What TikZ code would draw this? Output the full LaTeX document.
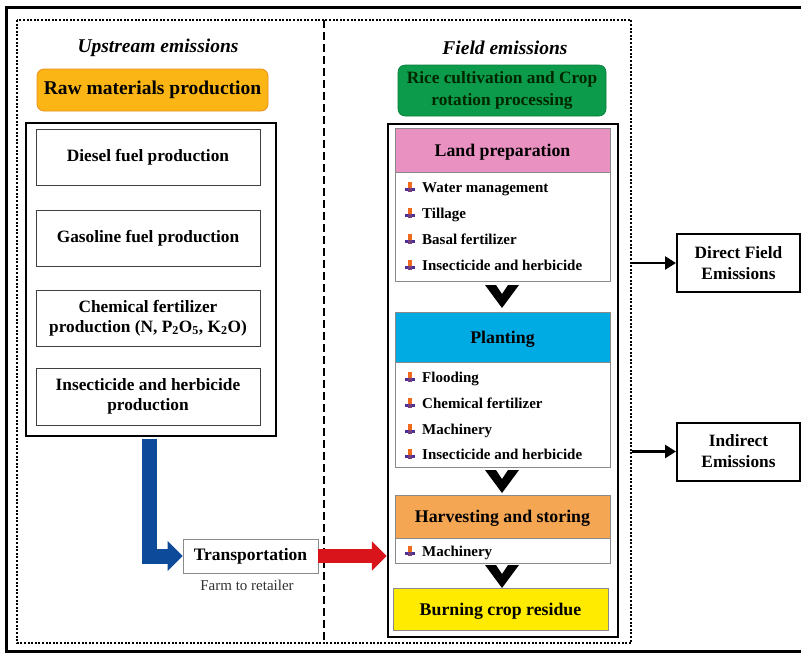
\documentclass[tikz,border=0pt]{standalone}
\usepackage{fontspec}
\setmainfont{Liberation Serif}
\usetikzlibrary{arrows.meta}
\definecolor{rawor}{HTML}{FBB514}
\definecolor{rawedge}{HTML}{E8901A}
\definecolor{rotgreen}{HTML}{0B9B4A}
\definecolor{landpink}{HTML}{E991C1}
\definecolor{plantblue}{HTML}{00ABE3}
\definecolor{harvor}{HTML}{F5A653}
\definecolor{burnyel}{HTML}{FFEB00}
\definecolor{arrblue}{HTML}{0D4A9A}
\definecolor{arrred}{HTML}{D9151B}
\definecolor{bulor}{HTML}{F06A1E}
\definecolor{bulblue}{HTML}{4B2E9A}
\definecolor{edgegray}{HTML}{8A8A8A}
\begin{document}
\begin{tikzpicture}[x=1pt,y=-1pt,
  title/.style={font=\fontsize{19.5}{22}\selectfont\bfseries\itshape},
  upitem/.style={draw=black!75, line width=0.9pt, fill=white, align=center,
    font=\fontsize{17.3}{20}\selectfont\bfseries, minimum width=224pt, inner sep=0pt},
  bigframe/.style={draw=black, line width=2.5pt, inner sep=0pt},
  header/.style={draw=edgegray, line width=0.6pt, minimum width=215pt, inner sep=0pt,
    text depth=0pt, font=\fontsize{17.8}{20}\selectfont\bfseries},
  listbox/.style={draw=edgegray, line width=0.8pt, fill=white, minimum width=215pt, inner sep=0pt},
  li/.style={anchor=base west, inner sep=0pt, font=\fontsize{15}{17}\selectfont\bfseries},
  outbox/.style={draw=black, line width=2pt, fill=white, align=center, minimum width=123pt,
    minimum height=58pt, inner sep=0pt, font=\fontsize{17.3}{21}\selectfont\bfseries},
  thinarrow/.style={line width=2.6pt, -{Triangle[length=11pt,width=13pt]}},
  bul/.pic={
    \fill[bulblue] (-5,0.5) rectangle (5,3.5);
    \fill[bulor] (-1.8,-5) rectangle (1.8,0.5);
    \fill[bulblue!75!bulor] (-1.8,0.5) rectangle (1.8,5);
  },
  chev/.pic={
    \fill[black] (-17,0) -- (-6,0) -- (0,9) -- (6,0) -- (17,0) -- (0,23) -- cycle;
  }
]
\useasboundingbox (0,0) rectangle (801,657);
\fill[white] (0,0) rectangle (801,657);

% outer frame
\draw[line width=3pt] (801,7) -- (6,7) -- (6,651) -- (801,651);
% dotted frame
\draw[line width=2.5pt, dash pattern=on 2pt off 1.6pt] (17,20) rectangle (631,643);
% dashed divider
\draw[line width=2pt, dash pattern=on 8pt off 4pt] (324,20) -- (324,643);

% titles
\node[title] (uptitle) at (158,48) {Upstream emissions};
\node[title] (fieldtitle) at (505,48) {Field emissions};

% upstream side
\node[rounded corners=7pt, fill=rawor, draw=rawedge, line width=0.8pt,
  minimum width=231pt, minimum height=42pt, inner sep=0pt,
  font=\fontsize{19.5}{22}\selectfont\bfseries] (raw) at (152.5,90) {Raw materials production};
\node[bigframe, minimum width=250pt, minimum height=313pt] (upbox) at (151,279.5) {};
\node[upitem, minimum height=56pt] (diesel) at (148,157) {Diesel fuel production};
\node[upitem, minimum height=56pt] (gasoline) at (148,238) {Gasoline fuel production};
\node[upitem, minimum height=56pt] (chem) at (148,318)
  {Chemical fertilizer\\production (N, P\textsubscript{2}O\textsubscript{5}, K\textsubscript{2}O)};
\node[upitem, minimum height=57pt] (insect) at (148,396.5)
  {Insecticide and herbicide\\production};

% transportation
\node[draw=edgegray, line width=0.8pt, minimum width=135pt, minimum height=34pt, inner sep=0pt,
  font=\fontsize{17.5}{20}\selectfont\bfseries] (transport) at (250.5,556) {Transportation};
\node[font=\fontsize{15}{17}\selectfont, text=black!80] (farm) at (247,585) {Farm to retailer};

% field side
\node[rounded corners=7pt, fill=rotgreen, draw=rotgreen!80!black, line width=0.6pt,
  minimum width=208pt, minimum height=51pt, inner sep=0pt, align=center, text=black!85!green,
  font=\fontsize{17.3}{22}\selectfont\bfseries] (rot) at (502,90.5)
  {Rice cultivation and Crop\\rotation processing};
\node[bigframe, minimum width=230pt, minimum height=513pt] (fieldbox) at (503,380.5) {};

% land preparation
\node[listbox, minimum height=109pt] (landlist) at (502.5,226.5) {};
\node[header, fill=landpink, minimum height=44pt] (land) at (502.5,150) {Land preparation};
\pic at (410,187) {bul};
\node[li] (l1) at (422,192) {Water management};
\pic at (410,213) {bul};
\node[li] (l2) at (422,218) {Tillage};
\pic at (410,239) {bul};
\node[li] (l3) at (422,244) {Basal fertilizer};
\pic at (410,265) {bul};
\node[li] (l4) at (422,270) {Insecticide and herbicide};
\pic at (502,285) {chev};

% planting
\node[listbox, minimum height=105pt] (plantlist) at (502.5,414.5) {};
\node[header, fill=plantblue, minimum height=50pt] (plant) at (502.5,337) {Planting};
\pic at (410,377) {bul};
\node[li] (p1) at (422,382) {Flooding};
\pic at (410,403) {bul};
\node[li] (p2) at (422,408) {Chemical fertilizer};
\pic at (410,429) {bul};
\node[li] (p3) at (422,434) {Machinery};
\pic at (410,454) {bul};
\node[li] (p4) at (422,459) {Insecticide and herbicide};
\pic at (502,470) {chev};

% harvesting
\node[listbox, minimum height=25pt] (harvlist) at (502.5,550.5) {};
\node[header, fill=harvor, minimum height=43pt] (harv) at (502.5,516.5) {Harvesting and storing};
\pic at (410,551) {bul};
\node[li] (h1) at (422,556) {Machinery};
\pic at (502,565) {chev};

% burning
\node[header, fill=burnyel, minimum height=42pt] (burn) at (500.5,609) {Burning crop residue};

% thick arrows
\draw[arrblue, line width=15pt, -{Triangle[length=15pt,width=29pt]}]
  ([xshift=-2pt,yshift=-1.5pt]upbox.south) |- (transport.west);
\draw[arrred, line width=14pt, -{Triangle[length=15pt,width=29pt]}]
  (transport.east) -- (fieldbox.west |- transport.east);

% emissions outputs
\node[outbox] (direct) at (738.5,263) {Direct Field\\Emissions};
\node[outbox] (indirect) at (738.5,451.5) {Indirect\\Emissions};
\coordinate (dstart) at (632,263);
\coordinate (istart) at (632,451.5);
\draw[thinarrow] (dstart) -- (direct.west);
\draw[thinarrow] (istart) -- (indirect.west);
\end{tikzpicture}
\end{document}
